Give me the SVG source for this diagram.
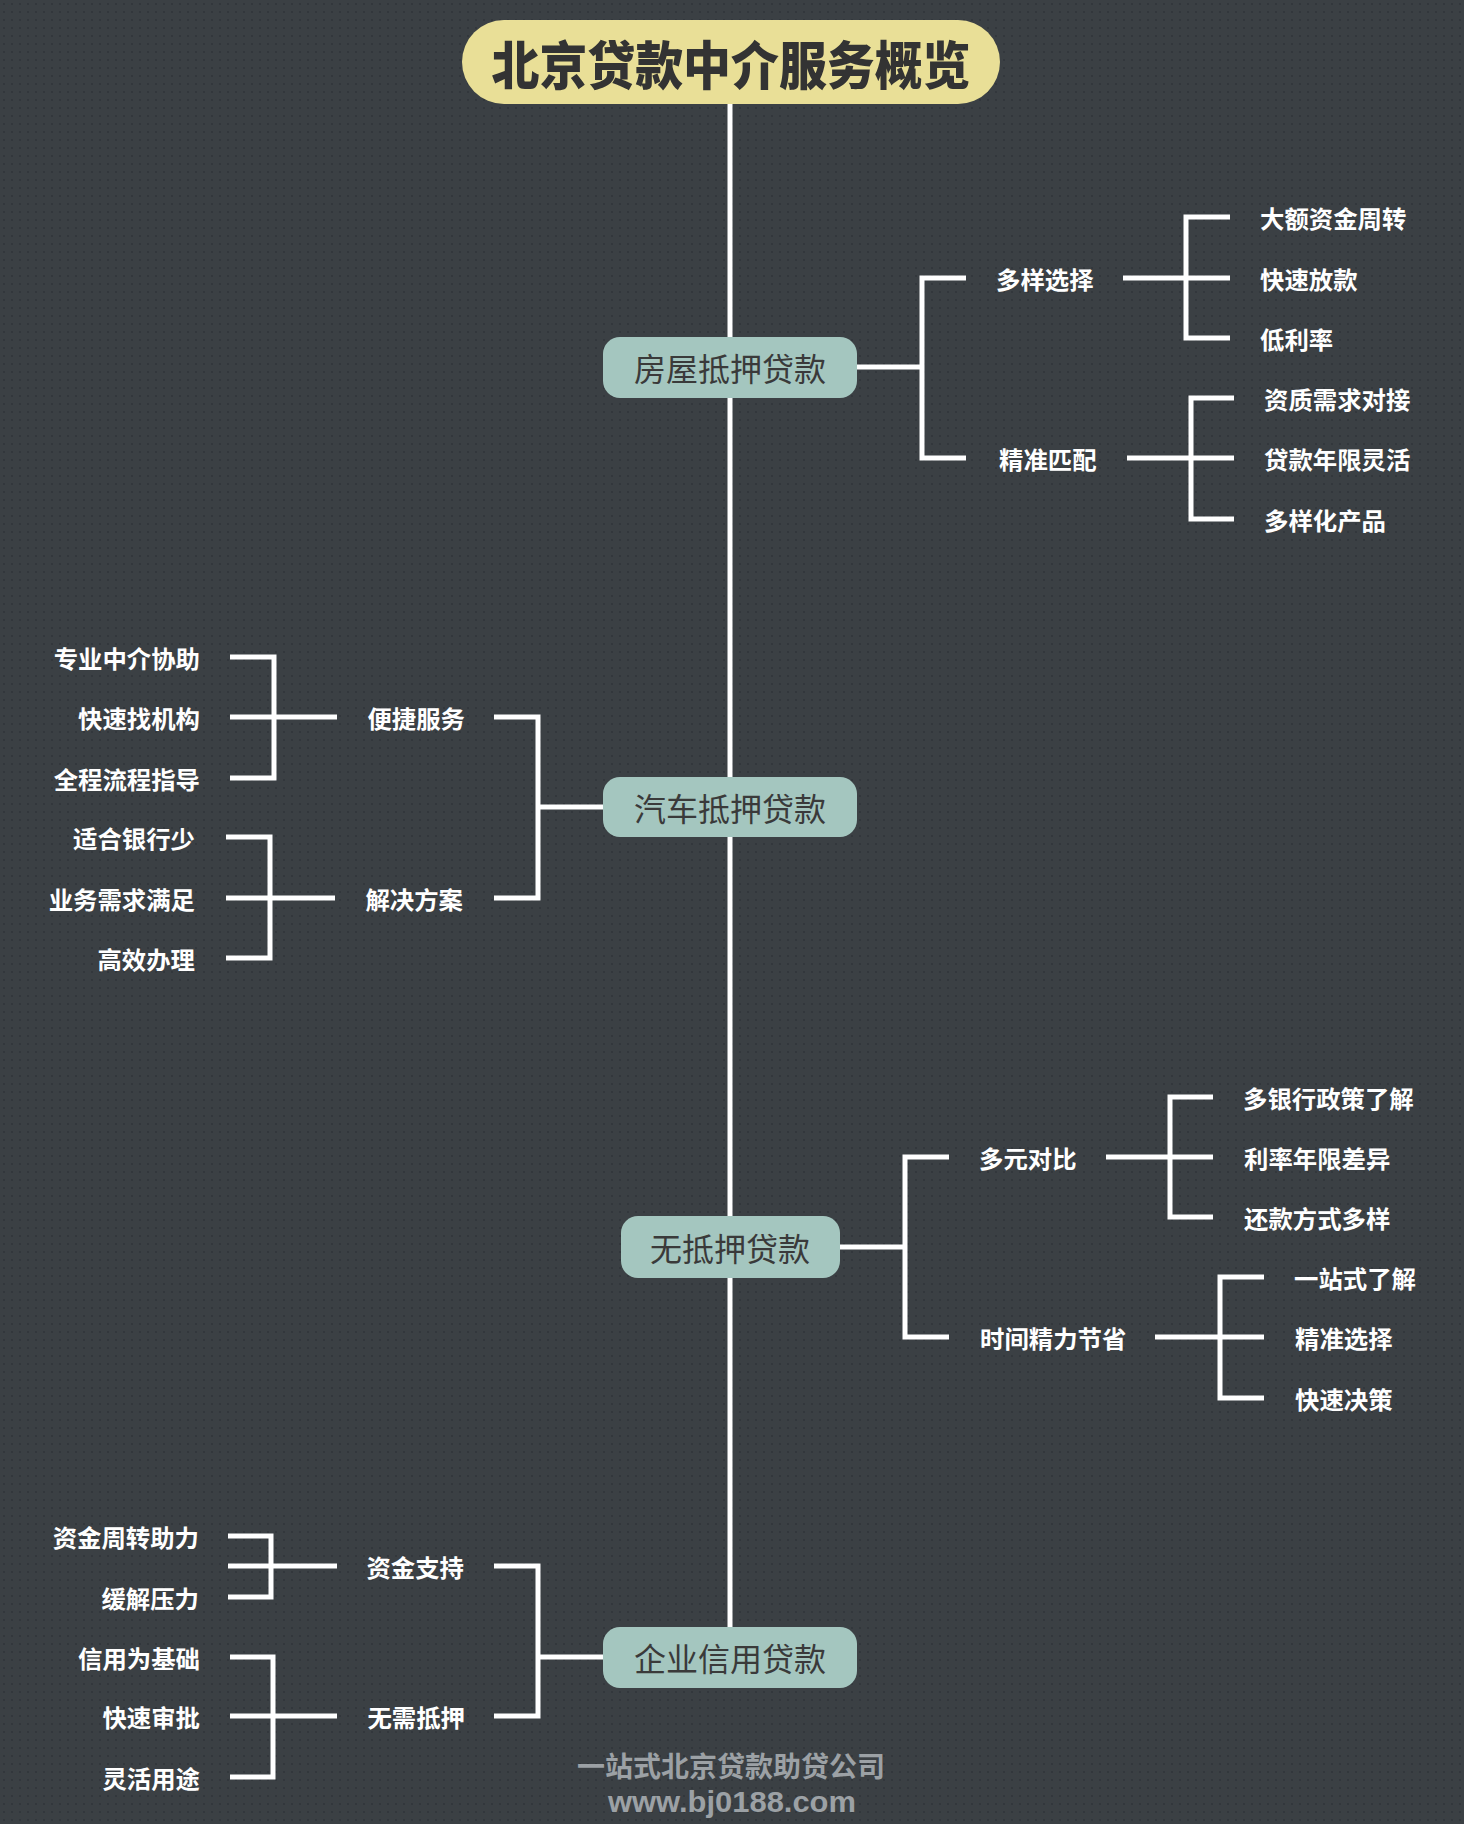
<svg xmlns="http://www.w3.org/2000/svg" width="1464" height="1824" viewBox="0 0 1464 1824">
<defs>
<pattern id="dots" x="0" y="0" width="8" height="8" patternUnits="userSpaceOnUse">
<rect width="8" height="8" fill="#3b4044"/>
<circle cx="4" cy="4" r="1.1" fill="#30353a"/>
</pattern>
<style>
.ln{fill:none;stroke:#ffffff;stroke-width:5;stroke-linecap:butt;stroke-linejoin:miter}
.node{fill:#a4c6bf}
.nt{font-family:"Noto Sans CJK SC","Noto Sans",sans-serif;font-size:32px;font-weight:400;fill:#3a3a3a;text-anchor:middle;dominant-baseline:central}
.lb{font-family:"Noto Sans CJK SC","Noto Sans",sans-serif;font-size:24.4px;font-weight:700;fill:#ffffff;dominant-baseline:central}
.r{text-anchor:start}
.l{text-anchor:end}
.title{font-family:"Noto Sans CJK SC","Noto Sans",sans-serif;font-size:52px;font-weight:900;fill:#333333;text-anchor:middle;dominant-baseline:central}
.foot{font-weight:700;fill:#9ca1a5;text-anchor:middle}
</style>
</defs>
<rect width="1464" height="1824" fill="url(#dots)"/>

<g id="connectors">
<path class="ln" d="M730 103 V1628"/>
<path class="ln" d="M857 367 H922"/>
<path class="ln" d="M966 278 H922 V458 H966"/>
<path class="ln" d="M1123 278 H1230 M1230 217 H1186 V338 H1230"/>
<path class="ln" d="M1127 458 H1234 M1234 398 H1191 V519 H1234"/>
<path class="ln" d="M603 807 H538"/>
<path class="ln" d="M494 717 H538 V898 H494"/>
<path class="ln" d="M337 717 H230 M230 657 H274 V778 H230"/>
<path class="ln" d="M335 898 H226 M226 837 H270 V958 H226"/>
<path class="ln" d="M839 1247 H905"/>
<path class="ln" d="M949 1157 H905 V1337 H949"/>
<path class="ln" d="M1106 1157 H1213 M1213 1097 H1170 V1217 H1213"/>
<path class="ln" d="M1155 1337 H1264 M1264 1277 H1220 V1398 H1264"/>
<path class="ln" d="M603 1657 H538"/>
<path class="ln" d="M494 1566 H538 V1716 H494"/>
<path class="ln" d="M337 1566 H228 M228 1536 H271 V1597 H228"/>
<path class="ln" d="M337 1716 H230 M230 1657 H273 V1777 H230"/>
</g>

<g id="title">
<rect x="462" y="20" width="538" height="84" rx="42" fill="#e9df97"/>
<text class="title" x="731" y="62" textLength="479" lengthAdjust="spacingAndGlyphs">北京贷款中介服务概览</text>
</g>

<g id="house">
<rect class="node" x="603" y="337" width="254" height="61" rx="17"/>
<text class="nt" x="730" y="367">房屋抵押贷款</text>
</g>
<g id="house-choice">
<text class="lb r" x="996" y="278">多样选择</text>
<text class="lb r" x="1260" y="217">大额资金周转</text>
<text class="lb r" x="1260" y="278">快速放款</text>
<text class="lb r" x="1260" y="338">低利率</text>
</g>
<g id="house-match">
<text class="lb r" x="999" y="458">精准匹配</text>
<text class="lb r" x="1264" y="398">资质需求对接</text>
<text class="lb r" x="1264" y="458">贷款年限灵活</text>
<text class="lb r" x="1264" y="519">多样化产品</text>
</g>

<g id="car">
<rect class="node" x="603" y="777" width="254" height="60" rx="17"/>
<text class="nt" x="730" y="807">汽车抵押贷款</text>
</g>
<g id="car-service">
<text class="lb l" x="465" y="717">便捷服务</text>
<text class="lb l" x="200" y="657">专业中介协助</text>
<text class="lb l" x="200" y="717">快速找机构</text>
<text class="lb l" x="200" y="778">全程流程指导</text>
</g>
<g id="car-solution">
<text class="lb l" x="463" y="898">解决方案</text>
<text class="lb l" x="195" y="837">适合银行少</text>
<text class="lb l" x="195" y="898">业务需求满足</text>
<text class="lb l" x="195" y="958">高效办理</text>
</g>

<g id="unsecured">
<rect class="node" x="621" y="1216" width="219" height="62" rx="17"/>
<text class="nt" x="730" y="1247">无抵押贷款</text>
</g>
<g id="unsecured-compare">
<text class="lb r" x="979" y="1157">多元对比</text>
<text class="lb r" x="1243" y="1097">多银行政策了解</text>
<text class="lb r" x="1244" y="1157">利率年限差异</text>
<text class="lb r" x="1244" y="1217">还款方式多样</text>
</g>
<g id="unsecured-time">
<text class="lb r" x="980" y="1337">时间精力节省</text>
<text class="lb r" x="1294" y="1277">一站式了解</text>
<text class="lb r" x="1295" y="1337">精准选择</text>
<text class="lb r" x="1295" y="1398">快速决策</text>
</g>

<g id="enterprise">
<rect class="node" x="603" y="1627" width="254" height="61" rx="17"/>
<text class="nt" x="730" y="1657">企业信用贷款</text>
</g>
<g id="enterprise-fund">
<text class="lb l" x="464" y="1566">资金支持</text>
<text class="lb l" x="199" y="1536">资金周转助力</text>
<text class="lb l" x="199" y="1597">缓解压力</text>
</g>
<g id="enterprise-nocollateral">
<text class="lb l" x="465" y="1716">无需抵押</text>
<text class="lb l" x="200" y="1657">信用为基础</text>
<text class="lb l" x="200" y="1716">快速审批</text>
<text class="lb l" x="200" y="1777">灵活用途</text>
</g>

<g id="footer">
<text class="foot" x="731" y="1777" font-family="'Noto Sans CJK SC', sans-serif" font-size="28">一站式北京贷款助贷公司</text>
<text class="foot" x="732" y="1812" font-family="'Liberation Sans', Arial, sans-serif" font-size="29" textLength="248" lengthAdjust="spacingAndGlyphs">www.bj0188.com</text>
</g>
</svg>
